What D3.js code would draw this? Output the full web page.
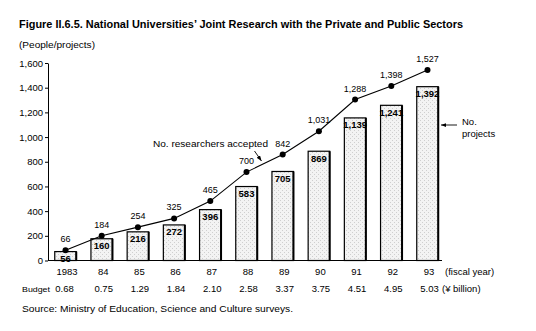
<!DOCTYPE html>
<html><head><meta charset="utf-8">
<script src="https://cdn.jsdelivr.net/npm/d3@7"></script>
<style>body{margin:0;background:#fff}svg{display:block;font-family:"Liberation Sans",Arial,sans-serif}</style>
</head><body><svg id="c" width="536" height="331"></svg>
<script>
const years = ["1983","84","85","86","87","88","89","90","91","92","93"];
const projects = [56,160,216,272,396,583,705,869,1139,1241,1392];
const researchers = [66,184,254,325,465,700,842,1031,1288,1398,1527];
const budget = ["0.68","0.75","1.29","1.84","2.10","2.58","3.37","3.75","4.51","4.95","5.03"];
const yTicks = [0,200,400,600,800,1000,1200,1400,1600];

const svg = d3.select("#c");
svg.append("rect").attr("width",536).attr("height",331).attr("fill","#fff");

const defs = svg.append("defs");
const pat = defs.append("pattern").attr("id","dots").attr("patternUnits","userSpaceOnUse").attr("width",4).attr("height",4);
pat.append("rect").attr("width",4).attr("height",4).attr("fill","#f3f3f3");
pat.append("rect").attr("x",0).attr("y",0).attr("width",1).attr("height",1).attr("fill","#cfcfcf");
pat.append("rect").attr("x",2).attr("y",2).attr("width",1).attr("height",1).attr("fill","#cfcfcf");

const x = d3.scalePoint().domain(years).range([65.5,427.5]);
const y = d3.scaleLinear().domain([0,1600]).range([260.5,63]);
const bw = 21.5;

// title
svg.append("text").attr("x",19).attr("y",28).attr("font-size",11.5).attr("font-weight","bold")
  .attr("textLength",444).attr("lengthAdjust","spacingAndGlyphs")
  .text("Figure II.6.5. National Universities’ Joint Research with the Private and Public Sectors");
svg.append("text").attr("x",19).attr("y",48).attr("font-size",9.5)
  .attr("textLength",76).attr("lengthAdjust","spacingAndGlyphs").text("(People/projects)");

// y axis
const ya = svg.append("g").attr("transform","translate(48,0)")
  .call(d3.axisLeft(y).tickValues(yTicks).tickFormat(d3.format(",")).tickSize(3).tickSizeOuter(0).tickPadding(2));
ya.select(".domain").attr("stroke","#000").attr("stroke-width",1);
ya.selectAll(".tick line").attr("stroke","#000");
ya.selectAll("text").attr("font-size",9.5).attr("fill","#000").attr("font-family","Liberation Sans, Arial, sans-serif");

// bars
const bars = svg.append("g");
bars.selectAll("rect").data(projects).join("rect")
  .attr("x",(d,i)=>x(years[i])-bw/2).attr("y",d=>y(d)-2)
  .attr("width",bw).attr("height",d=>y(0)-y(d)+2)
  .attr("fill","url(#dots)").attr("stroke","#000").attr("stroke-width",1.2);
bars.selectAll("line").data(projects).join("line")
  .attr("x1",(d,i)=>x(years[i])+bw/2).attr("x2",(d,i)=>x(years[i])+bw/2)
  .attr("y1",d=>y(d)-2).attr("y2",y(0)).attr("stroke","#000").attr("stroke-width",2);
bars.selectAll("text").data(projects).join("text")
  .attr("x",(d,i)=>x(years[i])).attr("y",d=>y(d)+8.5)
  .attr("text-anchor","middle").attr("font-size",9.5).attr("font-weight","bold")
  .text(d=>d3.format(",")(d));

// x axis line
svg.append("line").attr("x1",48).attr("x2",442).attr("y1",y(0)).attr("y2",y(0)).attr("stroke","#000").attr("stroke-width",1.2);

// line series
const line = d3.line().x((d,i)=>x(years[i])).y(d=>y(d)-2);
svg.append("path").datum(researchers).attr("d",line).attr("fill","none").attr("stroke","#000").attr("stroke-width",1.1);
svg.append("g").selectAll("circle").data(researchers).join("circle")
  .attr("cx",(d,i)=>x(years[i])).attr("cy",d=>y(d)-2).attr("r",3).attr("fill","#000");
svg.append("g").selectAll("text").data(researchers).join("text")
  .attr("x",(d,i)=>x(years[i])).attr("y",d=>y(d)-10)
  .attr("text-anchor","middle").attr("font-size",9)
  .text(d=>d3.format(",")(d));

// year labels
svg.append("g").selectAll("text").data(years).join("text")
  .attr("x",d=>x(d)+1.5).attr("y",275).attr("text-anchor","middle").attr("font-size",9.5).text(d=>d);
svg.append("text").attr("x",445).attr("y",275).attr("font-size",9.5).text("(fiscal year)");
svg.append("text").attr("x",22).attr("y",292).attr("font-size",7.5)
  .attr("textLength",28).attr("lengthAdjust","spacingAndGlyphs").text("Budget");
svg.append("g").selectAll("text").data(budget).join("text")
  .attr("x",(d,i)=>x(years[i])+(i===0?-1:2)).attr("y",292).attr("text-anchor","middle").attr("font-size",9.5).text(d=>d);
svg.append("text").attr("x",442).attr("y",292).attr("font-size",9.5).text("(¥ billion)");

// annotations
svg.append("text").attr("x",153).attr("y",147).attr("font-size",9.5)
  .attr("textLength",115).attr("lengthAdjust","spacingAndGlyphs").text("No. researchers accepted");
defs.append("marker").attr("id","ah").attr("viewBox","0 0 8 6").attr("refX",8).attr("refY",3)
  .attr("markerWidth",6).attr("markerHeight",5).attr("orient","auto")
  .append("path").attr("d","M0,0L8,3L0,6Z").attr("fill","#000");
svg.append("line").attr("x1",254.5).attr("y1",151).attr("x2",261.5).attr("y2",161)
  .attr("stroke","#000").attr("stroke-width",0.9).attr("marker-end","url(#ah)");
svg.append("line").attr("x1",457).attr("y1",125).attr("x2",441).attr("y2",125)
  .attr("stroke","#000").attr("stroke-width",0.9).attr("marker-end","url(#ah)");
svg.append("text").attr("x",462).attr("y",125).attr("font-size",9.5).text("No.");
svg.append("text").attr("x",462).attr("y",137).attr("font-size",9.5).text("projects");

// source
svg.append("text").attr("x",22).attr("y",312).attr("font-size",9.5)
  .attr("textLength",271).attr("lengthAdjust","spacingAndGlyphs")
  .text("Source: Ministry of Education, Science and Culture surveys.");
</script></body></html>
